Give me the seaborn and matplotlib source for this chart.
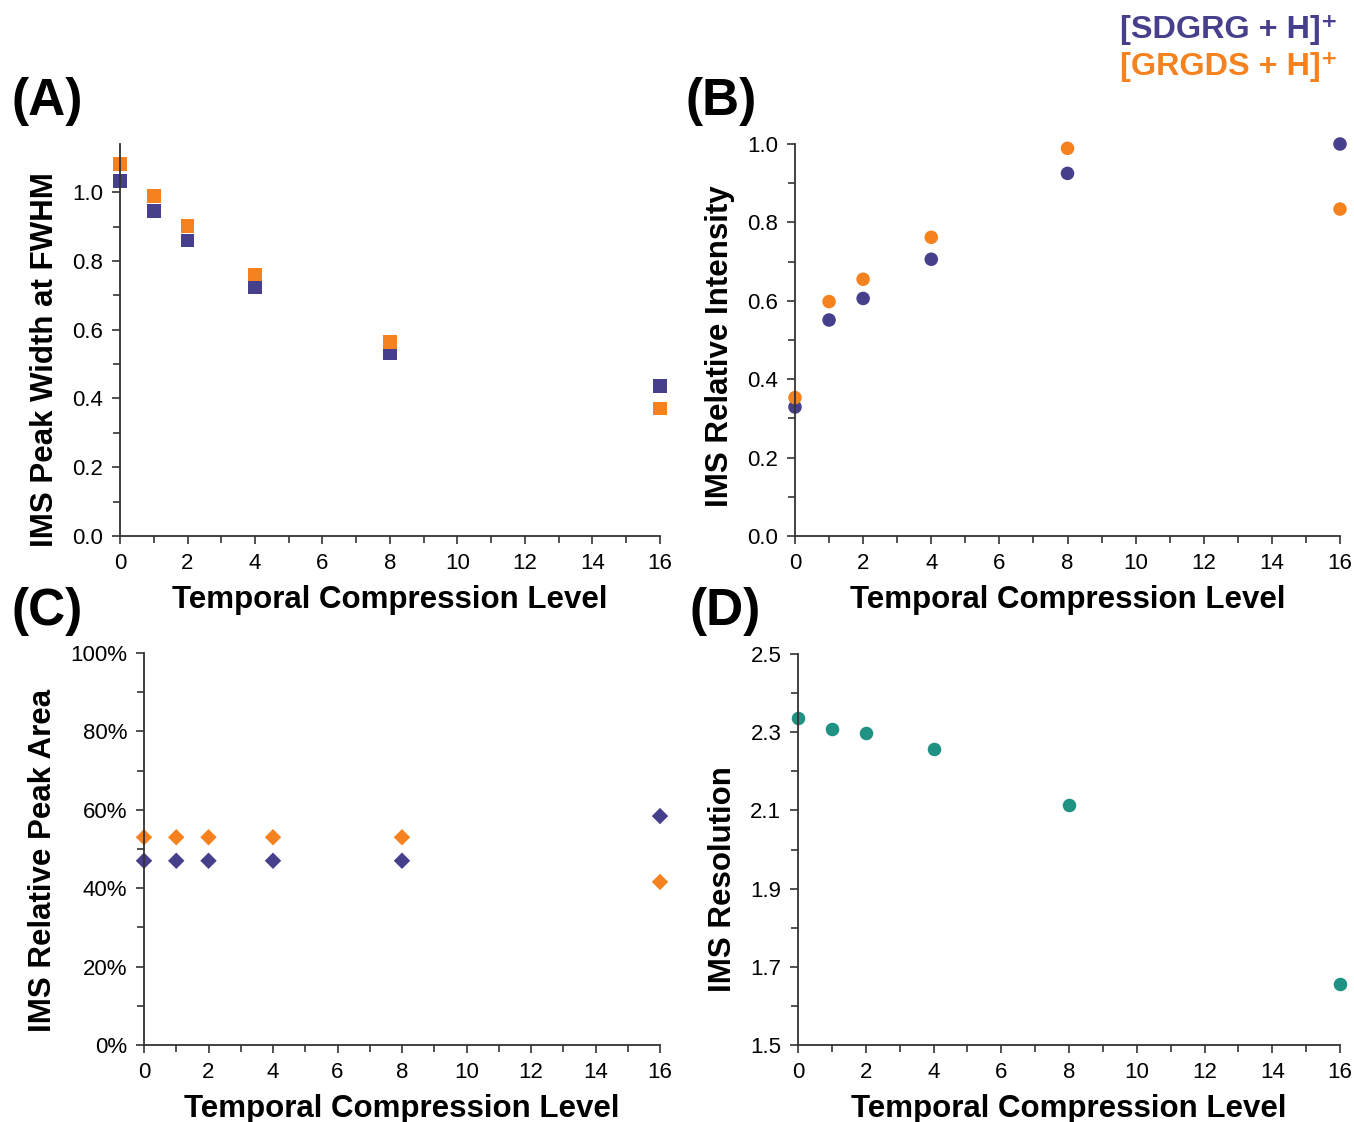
import pandas as pd
import seaborn as sns
import matplotlib.pyplot as plt
from matplotlib.ticker import MultipleLocator, FixedLocator, PercentFormatter

## Data
levels = [0, 1, 2, 4, 8, 16]
species = ["[SDGRG + H]+", "[GRGDS + H]+"]

width_sdgrg = [1.033, 0.945, 0.860, 0.724, 0.531, 0.437]
width_grgds = [1.082, 0.989, 0.902, 0.761, 0.564, 0.371]

inten_sdgrg = [0.329, 0.551, 0.606, 0.706, 0.925, 1.000]
inten_grgds = [0.353, 0.598, 0.655, 0.762, 0.989, 0.834]

area_sdgrg = [0.470, 0.470, 0.470, 0.470, 0.470, 0.584]
area_grgds = [0.530, 0.530, 0.530, 0.530, 0.530, 0.416]

resolution = [2.337, 2.309, 2.299, 2.257, 2.113, 1.656]

res_ticks = [1.5, 1.7, 1.9, 2.1, 2.3, 2.5]

PURPLE = "#463F8C"
ORANGE = "#F5821F"
TEAL = "#1F9284"
palette = {species[0]: PURPLE, species[1]: ORANGE}


def long_df(a, b):
    return pd.DataFrame({
        "level": levels * 2,
        "value": a + b,
        "species": [species[0]] * len(levels) + [species[1]] * len(levels),
    })


sns.set_style("ticks")
plt.rcParams['font.family'] = ['Liberation Sans', 'DejaVu Sans']
plt.rcParams['text.color'] = 'black'
plt.rcParams['axes.labelcolor'] = 'black'
plt.rcParams['xtick.color'] = 'black'
plt.rcParams['ytick.color'] = 'black'

fig = plt.figure(figsize=(13.54, 11.22), dpi=100)
W, H = 1354, 1122


def make_ax(left, right, top, bottom):
    return fig.add_axes([left / W, 1 - bottom / H, (right - left) / W, (bottom - top) / H])


axA = make_ax(120, 660, 144, 536)
axB = make_ax(795, 1340, 144, 536)
axC = make_ax(144, 660, 653, 1045)
axD = make_ax(798, 1340, 654, 1045)

sns.scatterplot(data=long_df(width_sdgrg, width_grgds), x="level", y="value", hue="species",
                palette=palette, marker="s", s=95, linewidth=0, legend=False, ax=axA, clip_on=False)
sns.scatterplot(data=long_df(inten_sdgrg, inten_grgds), x="level", y="value", hue="species",
                palette=palette, marker="o", s=95, linewidth=0, legend=False, ax=axB, clip_on=False)
sns.scatterplot(data=long_df(area_sdgrg, area_grgds), x="level", y="value", hue="species",
                palette=palette, marker="D", s=70, linewidth=0, legend=False, ax=axC, clip_on=False)
sns.scatterplot(x=levels, y=resolution, color=TEAL, marker="o", s=95, linewidth=0, ax=axD,
                clip_on=False)

axA.set_ylim(0, 1.14)
axA.yaxis.set_major_locator(FixedLocator([0, 0.2, 0.4, 0.6, 0.8, 1.0]))
axA.yaxis.set_minor_locator(FixedLocator([0.1, 0.3, 0.5, 0.7, 0.9, 1.1]))
axA.yaxis.set_major_formatter(lambda v, p: f"{v:.1f}")

axB.set_ylim(0, 1.0)
axB.yaxis.set_major_locator(MultipleLocator(0.2))
axB.yaxis.set_minor_locator(MultipleLocator(0.1))
axB.yaxis.set_major_formatter(lambda v, p: f"{v:.1f}")

axC.set_ylim(0, 1.0)
axC.yaxis.set_major_locator(MultipleLocator(0.2))
axC.yaxis.set_minor_locator(MultipleLocator(0.1))
axC.yaxis.set_major_formatter(PercentFormatter(xmax=1, decimals=0))

axD.set_ylim(1.5, 2.5)
axD.yaxis.set_major_locator(FixedLocator(res_ticks))
axD.yaxis.set_minor_locator(FixedLocator([t + 0.1 for t in res_ticks[:-1]]))
axD.yaxis.set_major_formatter(lambda v, p: f"{v:.1f}")

ylabels = ["IMS Peak Width at FWHM", "IMS Relative Intensity",
           "IMS Relative Peak Area", "IMS Resolution"]
ylabel_pos = [0.449, 0.485, 0.472, 0.425]  # labels sit a bit below centre in the original
for ax, yl, yp in zip([axA, axB, axC, axD], ylabels, ylabel_pos):
    ax.set_xlim(0, 16)
    ax.xaxis.set_major_locator(MultipleLocator(2))
    ax.xaxis.set_minor_locator(MultipleLocator(1))
    ax.set_xlabel("Temporal Compression Level", fontsize=22.5, fontweight="bold", labelpad=8)
    ax.set_ylabel(yl, fontsize=22.5, fontweight="bold", labelpad=9, y=yp)
    sns.despine(ax=ax)
    for side in ["left", "bottom"]:
        ax.spines[side].set_color("#333333")
        ax.spines[side].set_linewidth(1.3)
    ax.tick_params(which="major", length=6, width=1.2, color="#333333", labelsize=16, pad=6)
    ax.tick_params(which="minor", length=5, width=1.2, color="#333333")

# panel letters
for txt, x, y in [("(A)", 12, 102), ("(B)", 686, 102), ("(C)", 12, 612), ("(D)", 690, 612)]:
    fig.text(x / W, 1 - y / H, txt, fontsize=37, fontweight="bold", va="center", ha="left")

# species key
fig.text(1338 / W, 1 - 30 / H, "[SDGRG + H]\u207a", color=PURPLE, fontsize=23.3, fontweight="bold",
         ha="right", va="center", family=['Liberation Sans', 'DejaVu Sans'])
fig.text(1338 / W, 1 - 67 / H, "[GRGDS + H]\u207a", color=ORANGE, fontsize=23.3, fontweight="bold",
         ha="right", va="center", family=['Liberation Sans', 'DejaVu Sans'])

fig.savefig("out.png", dpi=100)
